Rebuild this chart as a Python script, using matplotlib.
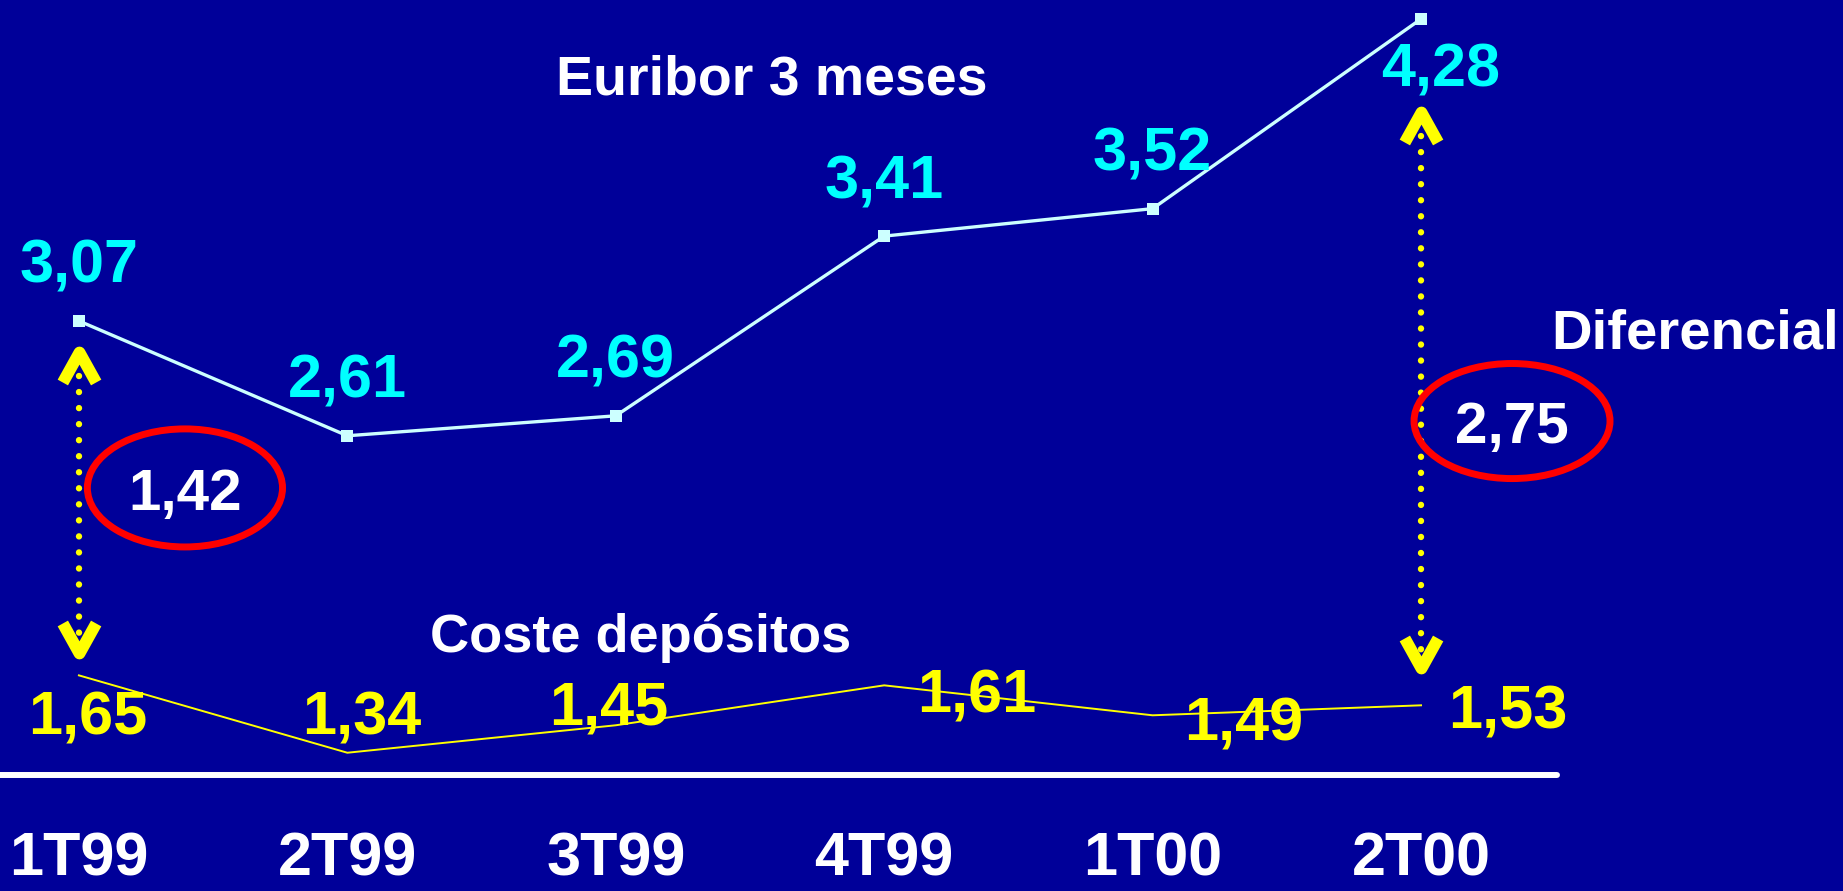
import matplotlib.pyplot as plt
from matplotlib.patches import Ellipse
from matplotlib.path import Path
from matplotlib.markers import MarkerStyle
from matplotlib import transforms

plt.rcParams['font.family'] = ['Liberation Sans', 'DejaVu Sans']
plt.rcParams['font.weight'] = 'bold'

# Data
periodos = ['1T99', '2T99', '3T99', '4T99', '1T00', '2T00']
euribor = [3.07, 2.61, 2.69, 3.41, 3.52, 4.28]
coste = [1.65, 1.34, 1.45, 1.61, 1.49, 1.53]
dif_idx = [0, 5]
diferencial = [1.42, 2.75]

# label offsets (pixels, relative to the point, baseline)
eur_off = [(0, 38), (0, 38), (0, 38), (0, 38), (0, 38), (20, -68)]
cos_off = [(9, -59), (14, 18), (-7, 1), (93, -27), (91, -25), (87, -23)]

# arrows: (x index, top value, bottom value, top chevron, bottom chevron)
arrows = [(0, 2.85, 1.75, 2.886, 1.80), (5, 3.875, 1.69, 3.847, 1.74)]
# ellipses: (x centre, y centre, width, height)
ellipses = [(0.395, 2.401, 0.727, 0.473), (5.339, 2.669, 0.730, 0.461)]

BG = '#000099'
CYAN = '#00FFFF'
LINE = '#CCFFFF'
YEL = '#FFFF00'


def fmt(v):
    return f"{v:.2f}".replace('.', ',')


fig = plt.figure(figsize=(18.43, 8.91), dpi=100, facecolor=BG)
ax = fig.add_axes([0, 0, 1, 1])
ax.set_facecolor(BG)
ax.set_xlim(-0.294, 6.572)
ax.set_ylim(0.786, 4.356)
ax.axis('off')

x = list(range(len(periodos)))

ax.plot(x, euribor, color=LINE, lw=2.4, marker='s', markersize=9, markeredgewidth=0, zorder=3)
ax.plot(x, coste, color=YEL, lw=1.4, zorder=3)

for i, v in enumerate(euribor):
    ax.annotate(fmt(v), (i, v), xytext=eur_off[i], textcoords='offset pixels',
                ha='center', va='baseline', color=CYAN, fontsize=44, fontweight='bold')
for i, v in enumerate(coste):
    ax.annotate(fmt(v), (i, v), xytext=cos_off[i], textcoords='offset pixels',
                ha='center', va='baseline', color=YEL, fontsize=44, fontweight='bold')

# baseline
ax.plot([0, 0.845], [0.1302, 0.1302], color='white', lw=4.3, solid_capstyle='round',
        transform=ax.transAxes)

# category labels
trans = transforms.blended_transform_factory(ax.transData, ax.transAxes)
for i, p in enumerate(periodos):
    ax.text(i, 0.017, p, transform=trans, ha='center', va='baseline',
            color='white', fontsize=44, fontweight='bold')

# titles
ax.text(2.582, 3.979, 'Euribor 3 meses', ha='center', va='baseline', color='white', fontsize=40)
ax.text(2.094, 1.744, 'Coste depósitos', ha='center', va='baseline', color='white', fontsize=39)
ax.text(6.02, 2.958, 'Diferencial', ha='center', va='baseline', color='white', fontsize=40.5)

# arrows
chev_up = Path([(-1, -0.9), (0, 0.9), (1, -0.9)], [Path.MOVETO, Path.LINETO, Path.LINETO])
chev_dn = Path([(-1, 0.9), (0, -0.9), (1, 0.9)], [Path.MOVETO, Path.LINETO, Path.LINETO])
for xi, top, bot, ctop, cbot in arrows:
    ax.plot([xi, xi], [top, bot], color=YEL, lw=4.6, dashes=(0.01, 2.5),
            dash_capstyle='round', zorder=4)
    ax.plot([xi], [ctop], marker=MarkerStyle(chev_up, joinstyle='miter'), markersize=24,
            markeredgewidth=8.5, markeredgecolor=YEL, markerfacecolor='none', zorder=5)
    ax.plot([xi], [cbot], marker=MarkerStyle(chev_dn, joinstyle='miter'), markersize=24,
            markeredgewidth=8.5, markeredgecolor=YEL, markerfacecolor='none', zorder=5)

# ellipses with differential
for (cx, cy, w, h), v in zip(ellipses, diferencial):
    ax.add_patch(Ellipse((cx, cy), w, h, facecolor='none', edgecolor='#FF0000', lw=5, zorder=6))
    ax.text(cx, cy - 0.088, fmt(v), ha='center', va='baseline', color='white',
            fontsize=42, fontweight='bold', zorder=7)

fig.savefig('out.png', dpi=100, facecolor=BG)
